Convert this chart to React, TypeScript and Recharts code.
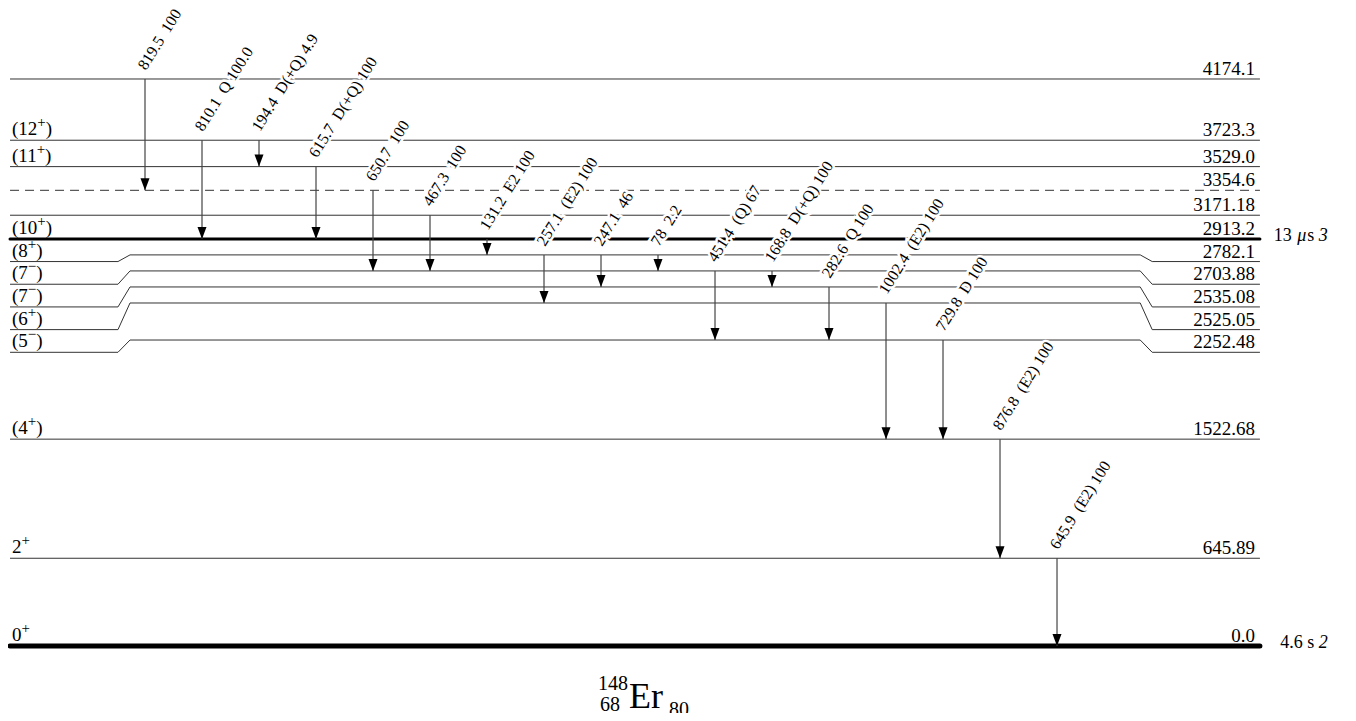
import React from "react"
import { ComposedChart, Line, XAxis, YAxis } from "recharts"

// levels of 148Er (keV), bottom to top
const levelEnergies = [0.0, 645.89, 1522.68, 2252.48, 2525.05, 2535.08, 2703.88, 2782.1, 2913.2, 3171.18, 3354.6, 3529.0, 3723.3, 4174.1]
const levelLabels = ["0.0", "645.89", "1522.68", "2252.48", "2525.05", "2535.08", "2703.88", "2782.1", "2913.2", "3171.18", "3354.6", "3529.0", "3723.3", "4174.1"]
const levelSpins = ["0+", "2+", "(4+)", "(5−)", "(6+)", "(7−)", "(7−)", "(8+)", "(10+)", "", "", "(11+)", "(12+)", ""]
const halfLives = ["4.6 s", "", "", "", "", "", "", "", "13 μs", "", "", "", "", ""]
const halfLifeErrors = ["2", "", "", "", "", "", "", "", "3", "", "", "", "", ""]
const tentativeLevels = [3354.6]

// gamma rays, left to right
const gammaEnergies = ["819.5", "810.1", "194.4", "615.7", "650.7", "467.3", "131.2", "257.1", "247.1", "78", "451.4", "168.8", "282.6", "1002.4", "729.8", "876.8", "645.9"]
const gammaMults = ["", "Q", "D(+Q)", "D(+Q)", "", "", "E2", "(E2)", "", "", "(Q)", "D(+Q)", "Q", "(E2)", "D", "(E2)", "(E2)"]
const gammaIntensities = ["100", "100.0", "4.9", "100", "100", "100", "100", "100", "46", "2.2", "67", "100", "100", "100", "100", "100", "100"]
const gammaFrom = [4174.1, 3723.3, 3723.3, 3529.0, 3354.6, 3171.18, 2913.2, 2782.1, 2782.1, 2782.1, 2703.88, 2703.88, 2535.08, 2525.05, 2252.48, 1522.68, 645.89]
const gammaTo = [3354.6, 2913.2, 3529.0, 2913.2, 2703.88, 2703.88, 2782.1, 2525.05, 2535.08, 2703.88, 2252.48, 2535.08, 2252.48, 1522.68, 1522.68, 645.89, 0.0]

const W = 1340
const H = 705
const FONT = "'Liberation Serif', 'Times New Roman', 'DejaVu Serif', serif"
const TXT = { fontFamily: FONT }
const NB = "\u00a0"

// energy axis, keV
const Y_DOMAIN = [-493.3, 4696.7]
const MIN_GAP = 118 // smallest spacing between drawn levels
const LABEL_GAP = 167 // smallest spacing between level labels

// x axis in gamma slots
const X_DOMAIN = [-2.4035, 21.105]
const X_LEFT = -2.368
const X_K1 = -0.474
const X_K2 = -0.263
const X_K3 = 17.46
const X_K4 = 17.67
const X_RIGHT = 19.56
const X_HALFLIFE = 20.75

// drawn level positions: push crowded levels apart (bottom up)
const drawE: number[] = []
levelEnergies.forEach((e, i) => {
  drawE.push(i === 0 ? e : Math.max(e, drawE[i - 1] + MIN_GAP))
})
// label positions at the ends (top down)
const labelE: number[] = new Array(levelEnergies.length)
for (let i = levelEnergies.length - 1; i >= 0; i--) {
  labelE[i] = i === levelEnergies.length - 1 ? drawE[i] : Math.min(drawE[i], labelE[i + 1] - LABEL_GAP)
}

const levelIndex = (e: number) => levelEnergies.indexOf(e)

function SpinText({ x, y, spin }: { x: number; y: number; spin: string }) {
  const m = spin.match(/^(\(?\d+)([+−])(\)?)$/)
  if (!m) return null
  return (
    <text x={x} y={y} style={TXT} fontSize={19} fill="#000">
      <tspan>{m[1]}</tspan>
      <tspan dy={-8} fontSize={15}>{m[2]}</tspan>
      <tspan dy={8}>{m[3]}</tspan>
    </text>
  )
}

function HalfLifeText({ x, y, value, err }: { x: number; y: number; value: string; err: string }) {
  const parts = value.split("μ")
  return (
    <text x={x} y={y} textAnchor="end" style={TXT} fontSize={18} fill="#000">
      <tspan>{parts[0]}</tspan>
      {parts.length > 1 && <tspan fontStyle="italic" dx={1}>μ</tspan>}
      {parts.length > 1 && <tspan dx={1}>{parts[1]}</tspan>}
      <tspan fontStyle="italic">{NB + err}</tspan>
    </text>
  )
}

export default function App() {
  const levels = levelEnergies.map((e, i) => {
    const d = drawE[i]
    const l = labelE[i]
    const isomer = halfLives[i] !== ""
    const main =
      d === l
        ? [{ x: X_LEFT, y: d }, { x: X_RIGHT, y: d }]
        : [
            { x: X_LEFT, y: l },
            { x: X_K1, y: l },
            { x: X_K2, y: d },
            { x: X_K3, y: d },
            { x: X_K4, y: l },
            { x: X_RIGHT, y: l },
          ]
    const width = isomer ? (e === 0 ? 5 : 3) : 1
    const last = main.length - 1
    const dot = (p: any) => {
      const { cx, cy, index } = p
      if (index === 0) {
        return (
          <g key={`ls-${i}`}>
            {levelSpins[i] && <SpinText x={cx + 2} y={cy - 5} spin={levelSpins[i]} />}
          </g>
        )
      }
      if (index === last) {
        return (
          <g key={`le-${i}`}>
            <text x={cx - 5} y={cy - 4} textAnchor="end" style={TXT} fontSize={19} fill="#000">
              {levelLabels[i]}
            </text>
          </g>
        )
      }
      return <g key={`lx-${i}-${index}`} />
    }
    const hlDot = (p: any) => {
      const { cx, cy, index } = p
      if (index !== 0) return <g key={`hx-${i}`} />
      return <HalfLifeText key={`hl-${i}`} x={cx} y={cy + 2} value={halfLives[i]} err={halfLifeErrors[i]} />
    }
    return (
      <React.Fragment key={`lev-${i}`}>
        <Line
          data={main}
          dataKey="y"
          type="linear"
          stroke={isomer ? "#000" : "#333"}
          strokeWidth={width}
          strokeLinecap={isomer ? "round" : "butt"}
          strokeDasharray={tentativeLevels.includes(e) ? "9 6" : undefined}
          dot={dot}
          activeDot={false}
          isAnimationActive={false}
        />
        {isomer && (
          <Line
            data={[{ x: X_HALFLIFE, y: d }]}
            dataKey="y"
            stroke="none"
            dot={hlDot}
            activeDot={false}
            isAnimationActive={false}
          />
        )}
      </React.Fragment>
    )
  })

  const gammas = gammaEnergies.map((g, i) => {
    const from = drawE[levelIndex(gammaFrom[i])]
    const to = drawE[levelIndex(gammaTo[i])]
    const rest = [gammaMults[i], gammaIntensities[i]].filter((s) => s !== "").join(NB)
    const text = g + NB + NB + rest
    const dot = (p: any) => {
      const { cx, cy, index } = p
      if (index === 0) {
        const ax = cx + 1
        const ay = cy - 8
        return (
          <text
            key={`gl-${i}`}
            x={ax}
            y={ay}
            transform={`rotate(-58 ${ax} ${ay})`}
            style={TXT}
            fontSize={16}
            fill="#000"
            stroke="#fff"
            strokeWidth={5}
            paintOrder="stroke"
          >
            {text}
          </text>
        )
      }
      return <polygon key={`ga-${i}`} points={`${cx},${cy} ${cx - 4.5},${cy - 12} ${cx + 4.5},${cy - 12}`} fill="#000" />
    }
    return (
      <Line
        key={`gam-${i}`}
        data={[{ x: i, y: from }, { x: i, y: to }]}
        dataKey="y"
        type="linear"
        stroke="#444"
        strokeWidth={1.2}
        dot={dot}
        activeDot={false}
        isAnimationActive={false}
      />
    )
  })

  return (
    <div style={{ position: "relative", width: W, height: H, background: "#fff" }}>
      <style>{`.recharts-surface { overflow: visible; }`}</style>
      <ComposedChart width={W} height={H} margin={{ top: 0, right: 0, bottom: 0, left: 0 }}>
        <XAxis type="number" dataKey="x" domain={X_DOMAIN} hide />
        <YAxis type="number" dataKey="y" domain={Y_DOMAIN} hide />
        {levels}
        {gammas}
      </ComposedChart>
      <div style={{ position: "absolute", left: 0, top: 0, fontFamily: FONT, color: "#000", lineHeight: 1, whiteSpace: "nowrap" }}>
        <span style={{ position: "absolute", left: 590, top: 665, fontSize: 20 }}>148</span>
        <span style={{ position: "absolute", left: 592, top: 686, fontSize: 20 }}>68</span>
        <span style={{ position: "absolute", left: 621, top: 670, fontSize: 36 }}>Er</span>
        <span style={{ position: "absolute", left: 661, top: 691, fontSize: 20 }}>80</span>
      </div>
    </div>
  )
}
